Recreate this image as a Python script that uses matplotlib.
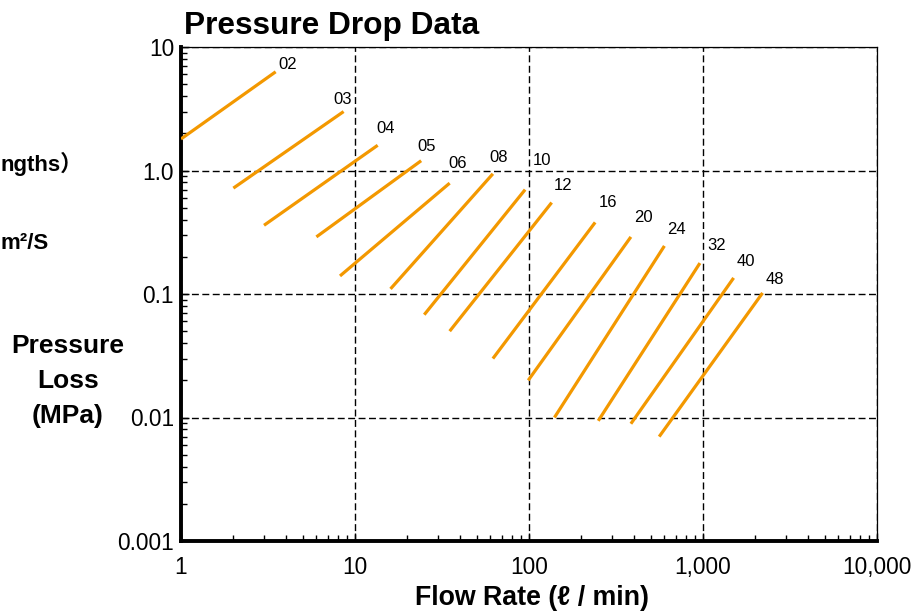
import matplotlib
matplotlib.use("Agg")
import matplotlib.pyplot as plt
from matplotlib.ticker import FixedLocator, FixedFormatter, LogLocator, NullFormatter

plt.rcParams['font.family'] = ['Liberation Sans', 'DejaVu Sans', 'Noto Sans CJK JP']

# hose sizes and the two ends of each pressure-loss line
sizes = ['02', '03', '04', '05', '06', '08', '10', '12', '16', '20', '24', '32', '40', '48']
flow_lo = [1.0, 2.0, 3.0, 6.0, 8.2, 16, 25, 35, 62, 99, 140, 250, 385, 560]
flow_hi = [3.5, 8.6, 13.5, 24, 35, 62, 95, 135, 240, 385, 600, 960, 1500, 2200]
loss_lo = [1.8, 0.72, 0.36, 0.29, 0.14, 0.11, 0.068, 0.050, 0.030, 0.020, 0.010, 0.0094, 0.0089, 0.0070]
loss_hi = [6.3, 3.0, 1.6, 1.2, 0.79, 0.94, 0.70, 0.55, 0.38, 0.29, 0.245, 0.178, 0.135, 0.102]

x_ticks = [1, 10, 100, 1000, 10000]
x_ticklabels = ['1', '10', '100', '1,000', '10,000']
y_ticks = [0.001, 0.01, 0.1, 1, 10]
y_ticklabels = ['0.001', '0.01', '0.1', '1.0', '10']

# label offsets (points) from the upper end of each line
label_offsets = [(9, 5), (-1, 9), (6, 12), (4, 10), (6, 14), (4, 12), (12, 21), (8, 12),
                 (9, 14), (9, 14), (9, 12), (12, 13), (9, 12), (9, 10)]

orange = '#F39800'

fig = plt.figure(figsize=(9.16, 6.12), dpi=100)
ax = fig.add_axes([181 / 916, 1 - 541 / 612, (877 - 181) / 916, (541 - 47) / 612])

for s, x0, x1, y0, y1, off in zip(sizes, flow_lo, flow_hi, loss_lo, loss_hi, label_offsets):
    ax.plot([x0, x1], [y0, y1], color=orange, lw=2.3, solid_capstyle='butt', zorder=3)
    ax.annotate(s, (x1, y1), xytext=off, textcoords='offset points',
                ha='center', va='center', fontsize=12)

ax.set_xscale('log')
ax.set_yscale('log')
ax.set_xlim(1, 10000)
ax.set_ylim(0.001, 10)

ax.xaxis.set_major_locator(FixedLocator(x_ticks))
ax.xaxis.set_major_formatter(FixedFormatter(x_ticklabels))
ax.yaxis.set_major_locator(FixedLocator(y_ticks))
ax.yaxis.set_major_formatter(FixedFormatter(y_ticklabels))
ax.xaxis.set_minor_locator(LogLocator(base=10, subs=range(2, 10)))
ax.yaxis.set_minor_locator(LogLocator(base=10, subs=range(2, 10)))
ax.xaxis.set_minor_formatter(NullFormatter())
ax.yaxis.set_minor_formatter(NullFormatter())

ax.tick_params(which='both', direction='in', top=False, right=False, colors='black')
ax.tick_params(which='major', length=6, width=1)
ax.tick_params(which='minor', length=4, width=1)
ax.tick_params(axis='x', which='major', labelsize=16.3, pad=11)
ax.tick_params(axis='y', which='major', labelsize=16.3, pad=5)

ax.grid(which='major', color='black', lw=1, ls=(0, (5, 2.5)))
ax.set_axisbelow(True)

for side in ['left', 'bottom']:
    ax.spines[side].set_linewidth(2.8)
for side in ['top', 'right']:
    ax.spines[side].set_linewidth(0.9)

fig.text(184 / 916, 1 - 34 / 612, 'Pressure Drop Data', fontsize=22.8, fontweight='bold',
         ha='left', va='baseline')
fig.text(532 / 916, 1 - 605 / 612, 'Flow Rate (ℓ / min)', fontsize=19.3, fontweight='bold',
         ha='center', va='baseline')
fig.text(68 / 916, 1 - 381 / 612, 'Pressure\nLoss\n(MPa)', fontsize=19, fontweight='bold',
         ha='center', va='center', multialignment='center', linespacing=1.6)

# notes at the left edge (partly cut off in the source)
fig.text(1 / 916, 1 - 171 / 612, 'ngths）', fontsize=16, fontweight='bold',
         ha='left', va='baseline')
fig.text(1 / 916, 1 - 249 / 612, 'm²/S', fontsize=16, fontweight='bold',
         ha='left', va='baseline')

fig.savefig('out.png', dpi=100)
